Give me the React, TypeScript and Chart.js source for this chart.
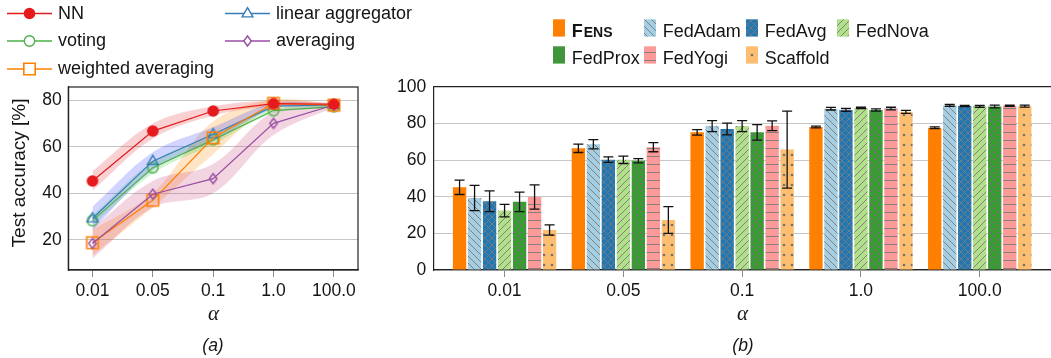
import React, { useEffect, useRef } from 'react';
import { Chart, registerables } from 'chart.js';

Chart.register(...registerables);

const FONT = '"Liberation Sans", Arial, Helvetica, sans-serif';
const TEXT = '#141414';

// shared x categories (alpha)
const alphaLabels = ['0.01', '0.05', '0.1', '1.0', '100.0'];
const alphaPos = [0, 1, 2, 3, 4];

// (a) test accuracy: mean and std band
const nnMean = [45.3, 66.7, 75.3, 78.5, 78.2];
const nnStd = [4.2, 3.2, 2.0, 1.2, 0.6];
const linearMean = [29.2, 53.8, 65.3, 77.4, 77.8];
const linearStd = [5.0, 3.8, 3.0, 1.2, 0.6];
const votingMean = [28.3, 51.0, 63.0, 75.5, 77.2];
const votingStd = [2.0, 2.5, 2.0, 1.2, 0.6];
const wavgMean = [18.8, 37.0, 63.8, 78.6, 77.8];
const wavgStd = [5.5, 3.0, 7.0, 1.5, 0.6];
const avgMean = [18.5, 39.6, 46.3, 70.0, 77.9];
const avgStd = [6.5, 5.7, 6.3, 5.0, 1.0];
const yTicksA = [20, 40, 60, 80];

// (b) test accuracy with error bars
const fensMean = [45.1, 66.4, 75.1, 78.0, 77.6];
const fensErr = [3.9, 2.3, 1.5, 0.5, 0.5];
const fedAdamMean = [39.3, 68.6, 78.5, 88.0, 89.8];
const fedAdamErr = [6.9, 2.5, 3.0, 0.7, 0.5];
const fedAvgMean = [37.5, 60.2, 76.9, 87.3, 89.5];
const fedAvgErr = [5.7, 1.5, 3.2, 0.8, 0.3];
const fedNovaMean = [32.4, 60.1, 78.5, 88.4, 89.3];
const fedNovaErr = [3.4, 2.0, 3.0, 0.4, 0.5];
const fedProxMean = [37.2, 59.6, 75.1, 87.3, 89.2];
const fedProxErr = [5.3, 1.2, 4.2, 0.6, 0.7];
const fedYogiMean = [39.8, 67.0, 78.7, 88.1, 89.6];
const fedYogiErr = [6.6, 2.5, 2.7, 0.7, 0.3];
const scaffoldMean = [21.8, 27.3, 65.7, 86.3, 89.4];
const scaffoldErr = [2.8, 7.3, 21.0, 0.8, 0.5];

type Kind = 'dot' | 'circ' | 'tri' | 'sq' | 'diam';

function drawMarker(g: CanvasRenderingContext2D, kind: Kind, x: number, y: number, color: string, fillWhite = false) {
  g.save();
  g.strokeStyle = color;
  g.fillStyle = fillWhite ? '#fff' : color;
  g.lineWidth = 1.4;
  g.beginPath();
  if (kind === 'dot') {
    g.arc(x, y, 5.8, 0, Math.PI * 2);
    g.fillStyle = color;
    g.fill();
  } else {
    if (kind === 'circ') g.arc(x, y, 5.2, 0, Math.PI * 2);
    else if (kind === 'tri') { g.moveTo(x, y - 5.8); g.lineTo(x + 5.4, y + 3.4); g.lineTo(x - 5.4, y + 3.4); g.closePath(); }
    else if (kind === 'sq') { g.rect(x - 5.7, y - 5.7, 11.4, 11.4); g.lineWidth = 1.6; }
    else if (kind === 'diam') { g.moveTo(x, y - 5); g.lineTo(x + 3.8, y); g.lineTo(x, y + 5); g.lineTo(x - 3.8, y); g.closePath(); }
    if (fillWhite) g.fill();
    g.stroke();
  }
  g.restore();
}

function makeMarker(kind: Kind, color: string): HTMLCanvasElement {
  const c = document.createElement('canvas');
  c.width = 16; c.height = 16;
  drawMarker(c.getContext('2d')!, kind, 8, 8, color);
  return c;
}

function makePattern(bg: string, kind: string): CanvasPattern | string {
  if (kind === 'solid') return bg;
  const w = kind === 'sparse' || kind === 'hlines' ? 8 : 7;
  const h = kind === 'sparse' ? 10 : w;
  const c = document.createElement('canvas');
  c.width = w; c.height = h;
  const g = c.getContext('2d')!;
  g.fillStyle = bg; g.fillRect(0, 0, w, h);
  g.strokeStyle = '#7b7b7b'; g.fillStyle = '#727272'; g.lineWidth = 0.9;
  const back = () => { g.beginPath(); g.moveTo(-1, -1); g.lineTo(w + 1, h + 1); g.moveTo(w - 1, -1); g.lineTo(w + 1, 1); g.moveTo(-1, h - 1); g.lineTo(1, h + 1); g.stroke(); };
  const fwd = () => { g.beginPath(); g.moveTo(-1, h + 1); g.lineTo(w + 1, -1); g.moveTo(-1, 1); g.lineTo(1, -1); g.moveTo(w - 1, h + 1); g.lineTo(w + 1, h - 1); g.stroke(); };
  const dot = (x: number, y: number) => { g.beginPath(); g.arc(x, y, 1.35, 0, Math.PI * 2); g.fill(); };
  if (kind === 'nw') back();
  else if (kind === 'ne') fwd();
  else if (kind === 'cross') { back(); fwd(); }
  else if (kind === 'hlines') { g.beginPath(); g.moveTo(0, 4.5); g.lineTo(w, 4.5); g.stroke(); }
  else if (kind === 'dots') { dot(1.75, 1.75); dot(5.25, 5.25); }
  else if (kind === 'sparse') { dot(4, 5); }
  return g.createPattern(c, 'repeat')!;
}

const pts = (vals: number[], off: number[] = [], sign = 0) =>
  vals.map((v, i) => ({ x: alphaPos[i], y: v + sign * (off[i] || 0) }));

const tickFont = { family: FONT, size: 17.5 };

export default function App() {
  const refA = useRef<HTMLCanvasElement>(null);
  const refB = useRef<HTMLCanvasElement>(null);

  useEffect(() => {
    // ---------- (a) ----------
    const lines = [
      { label: 'NN', mean: nnMean, std: nnStd, color: '#e41a1c', band: 'rgba(228,26,28,0.2)', kind: 'dot' as Kind, order: 0, lx: 7, ly: 13.5, tb: 19 },
      { label: 'linear aggregator', mean: linearMean, std: linearStd, color: '#377eb8', band: 'rgba(40,60,255,0.22)', kind: 'tri' as Kind, order: 3, lx: 225, ly: 13.5, tb: 19 },
      { label: 'voting', mean: votingMean, std: votingStd, color: '#4daf4a', band: 'rgba(40,200,40,0.22)', kind: 'circ' as Kind, order: 4, lx: 7, ly: 41, tb: 46 },
      { label: 'averaging', mean: avgMean, std: avgStd, color: '#984ea3', band: 'rgba(200,60,120,0.22)', kind: 'diam' as Kind, order: 1, lx: 225, ly: 41, tb: 46 },
      { label: 'weighted averaging', mean: wavgMean, std: wavgStd, color: '#ff7f00', band: 'rgba(255,150,30,0.26)', kind: 'sq' as Kind, order: 2, lx: 7, ly: 69, tb: 73.5 },
    ];
    const dsA: any[] = [];
    lines.forEach((s, k) => {
      dsA.push({ data: pts(s.mean, s.std, 1), borderWidth: 0, borderColor: 'rgba(0,0,0,0)', pointRadius: 0, fill: '+1', backgroundColor: s.band, tension: 0.35, order: 20 + k });
      dsA.push({ data: pts(s.mean, s.std, -1), borderWidth: 0, borderColor: 'rgba(0,0,0,0)', pointRadius: 0, fill: false, tension: 0.35, order: 20 + k });
    });
    lines.forEach((s) => {
      dsA.push({
        label: s.label, data: pts(s.mean), borderColor: s.color, borderWidth: 1.2, fill: false, tension: 0,
        pointStyle: makeMarker(s.kind, s.color), pointRadius: 6, order: s.order,
      });
    });

    const decoA = {
      id: 'decoA',
      afterDraw(chart: any) {
        const { ctx, chartArea: ca } = chart;
        ctx.save();
        ctx.strokeStyle = '#222'; ctx.lineWidth = 1.2;
        ctx.strokeRect(ca.left, ca.top, ca.right - ca.left, ca.bottom - ca.top);
        // legend
        ctx.font = `18px ${FONT}`;
        ctx.fillStyle = TEXT;
        ctx.textBaseline = 'alphabetic';
        ctx.textAlign = 'left';
        lines.forEach((s) => {
          ctx.strokeStyle = s.color; ctx.lineWidth = 1.4;
          ctx.beginPath(); ctx.moveTo(s.lx, s.ly); ctx.lineTo(s.lx + 45, s.ly); ctx.stroke();
          drawMarker(ctx, s.kind, s.lx + 22.5, s.ly, s.color, true);
          ctx.fillStyle = TEXT;
          ctx.fillText(s.label, s.lx + 51, s.tb);
        });
        // y title
        ctx.save();
        ctx.translate(20, 173);
        ctx.rotate(-Math.PI / 2);
        ctx.textAlign = 'center'; ctx.textBaseline = 'middle';
        ctx.font = `19px ${FONT}`;
        ctx.fillText('Test accuracy [%]', 0, 0);
        ctx.restore();
        // x title and caption
        ctx.textAlign = 'center';
        ctx.font = `italic 21px "Liberation Serif", serif`;
        ctx.fillText('α', 213.5, 320);
        ctx.font = `italic 17.5px ${FONT}`;
        ctx.fillText('(a)', 213, 351);
        ctx.restore();
      },
    };

    const chartA = new Chart(refA.current!, {
      type: 'line',
      data: { datasets: dsA },
      options: {
        responsive: false, animation: false, events: [],
        layout: { padding: { left: 0, top: 87, right: 62, bottom: 0 } },
        plugins: { legend: { display: false }, tooltip: { enabled: false } },
        scales: {
          x: {
            type: 'linear', min: -0.4, max: 4.4, offset: false,
            afterBuildTicks: (s: any) => { s.ticks = alphaPos.map((v) => ({ value: v })); },
            afterFit: (s: any) => { s.height = 88; },
            ticks: { callback: (_v: any, i: number) => alphaLabels[i], font: tickFont, color: TEXT, padding: 4, maxRotation: 0, autoSkip: false },
            grid: { display: true, drawOnChartArea: false, drawTicks: true, tickLength: 7, color: '#8a8a8a', offset: false },
            border: { display: true, color: '#222', width: 1.2 },
          },
          y: {
            type: 'linear', min: 7.1, max: 85.6,
            afterBuildTicks: (s: any) => { s.ticks = yTicksA.map((v) => ({ value: v })); },
            afterFit: (s: any) => { s.width = 68.3; },
            ticks: { font: tickFont, color: TEXT, padding: 6.5 },
            grid: { color: '#c6c6c6', lineWidth: 1, drawTicks: false },
            border: { display: true, color: '#222', width: 1.2 },
          },
        },
      },
      plugins: [decoA],
    } as any);

    // ---------- (b) ----------
    const OX = 380;
    const bars = [
      { label: 'FENS', mean: fensMean, err: fensErr, bg: makePattern('#ff7f00', 'solid'), bx: 553, by: 1 },
      { label: 'FedAdam', mean: fedAdamMean, err: fedAdamErr, bg: makePattern('#a6cee3', 'nw'), bx: 644, by: 1 },
      { label: 'FedAvg', mean: fedAvgMean, err: fedAvgErr, bg: makePattern('#1f78b4', 'cross'), bx: 746, by: 1 },
      { label: 'FedNova', mean: fedNovaMean, err: fedNovaErr, bg: makePattern('#b2df8a', 'ne'), bx: 837, by: 1 },
      { label: 'FedProx', mean: fedProxMean, err: fedProxErr, bg: makePattern('#33a02c', 'dots'), bx: 553, by: 2 },
      { label: 'FedYogi', mean: fedYogiMean, err: fedYogiErr, bg: makePattern('#fb9a99', 'hlines'), bx: 644, by: 2 },
      { label: 'Scaffold', mean: scaffoldMean, err: scaffoldErr, bg: makePattern('#fdbf6f', 'sparse'), bx: 746, by: 2 },
    ];
    const dsB = bars.map((b) => ({
      label: b.label, data: pts(b.mean), backgroundColor: b.bg, borderWidth: 0,
      barPercentage: 0.89, categoryPercentage: 0.884,
    }));

    const decoB = {
      id: 'decoB',
      afterDatasetsDraw(chart: any) {
        const { ctx } = chart;
        const ys = chart.scales.y;
        ctx.save();
        ctx.strokeStyle = '#111'; ctx.lineWidth = 1.3;
        bars.forEach((b, di) => {
          const meta = chart.getDatasetMeta(di);
          meta.data.forEach((el: any, j: number) => {
            const x = el.x;
            const yt = ys.getPixelForValue(b.mean[j] + b.err[j]);
            const yb = ys.getPixelForValue(b.mean[j] - b.err[j]);
            ctx.beginPath();
            ctx.moveTo(x, yt); ctx.lineTo(x, yb);
            ctx.moveTo(x - 5, yt); ctx.lineTo(x + 5, yt);
            ctx.moveTo(x - 5, yb); ctx.lineTo(x + 5, yb);
            ctx.stroke();
          });
        });
        ctx.restore();
      },
      afterDraw(chart: any) {
        const { ctx, chartArea: ca } = chart;
        ctx.save();
        ctx.strokeStyle = '#222'; ctx.lineWidth = 1.2;
        ctx.beginPath(); ctx.moveTo(ca.left, ca.top); ctx.lineTo(ca.right, ca.top); ctx.stroke();
        // legend
        bars.forEach((b) => {
          const boxTop = b.by === 1 ? 19.3 : 46.3;
          const base = b.by === 1 ? 36.7 : 64;
          ctx.fillStyle = b.bg;
          ctx.fillRect(b.bx - OX, boxTop, 12, 17.3);
          ctx.fillStyle = TEXT;
          ctx.textAlign = 'left'; ctx.textBaseline = 'alphabetic';
          const tx = b.bx - OX + 18.7;
          if (b.label === 'FENS') {
            ctx.font = `bold 18px ${FONT}`;
            ctx.fillText('F', tx, base);
            const fw = ctx.measureText('F').width;
            ctx.font = `bold 14px ${FONT}`;
            ctx.fillText('ENS', tx + fw + 1, base);
          } else {
            ctx.font = `18px ${FONT}`;
            ctx.fillText(b.label, tx, base);
          }
        });
        ctx.textAlign = 'center';
        ctx.font = `italic 21px "Liberation Serif", serif`;
        ctx.fillText('α', 742.5 - OX, 320);
        ctx.font = `italic 17.5px ${FONT}`;
        ctx.fillText('(b)', 743 - OX, 351);
        ctx.restore();
      },
    };

    const chartB = new Chart(refB.current!, {
      type: 'bar',
      data: { datasets: dsB },
      options: {
        responsive: false, animation: false, events: [],
        layout: { padding: { left: 0, top: 86.7, right: 0, bottom: 0 } },
        plugins: { legend: { display: false }, tooltip: { enabled: false } },
        scales: {
          x: {
            type: 'linear', min: -0.6, max: 4.6, offset: false,
            afterBuildTicks: (s: any) => { s.ticks = alphaPos.map((v) => ({ value: v })); },
            afterFit: (s: any) => { s.height = 88; },
            ticks: { callback: (_v: any, i: number) => alphaLabels[i], font: tickFont, color: TEXT, padding: 4, maxRotation: 0, autoSkip: false },
            grid: { display: true, drawOnChartArea: false, drawTicks: true, tickLength: 7, color: '#8a8a8a', offset: false },
            border: { display: true, color: '#222', width: 1.2 },
          },
          y: {
            type: 'linear', min: 0, max: 100,
            ticks: { stepSize: 20, font: tickFont, color: TEXT, padding: 7 },
            afterFit: (s: any) => { s.width = 53.3; },
            grid: { color: '#c6c6c6', lineWidth: 1, drawTicks: false },
            border: { display: true, color: '#222', width: 1.2 },
          },
        },
      },
      plugins: [decoB],
    } as any);

    return () => { chartA.destroy(); chartB.destroy(); };
  }, []);

  return (
    <div style={{ position: 'fixed', left: 0, top: 0, width: 1051, height: 358, background: '#fff', overflow: 'hidden' }}>
      <canvas ref={refA} width={420} height={358} style={{ position: 'absolute', left: 0, top: 0, width: 420, height: 358 }} />
      <canvas ref={refB} width={671} height={358} style={{ position: 'absolute', left: 380, top: 0, width: 671, height: 358 }} />
    </div>
  );
}
